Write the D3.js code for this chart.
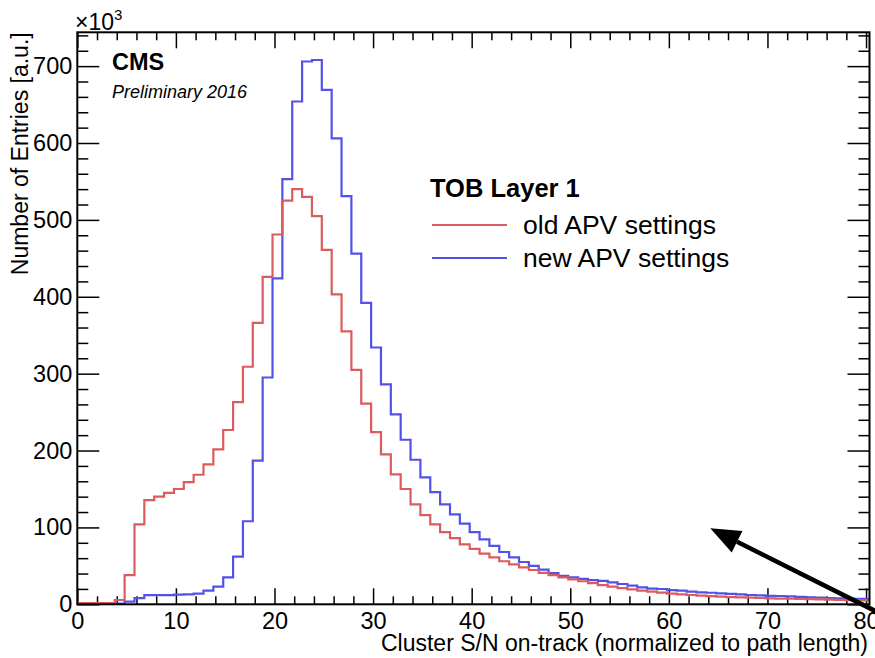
<!DOCTYPE html>
<html>
<head>
<meta charset="utf-8">
<script src="https://cdn.jsdelivr.net/npm/d3@7"></script>
<style>
  body { margin: 0; background: #fff; }
  text { font-family: "Liberation Sans", Arial, Helvetica, sans-serif; fill: #000; }
</style>
</head>
<body>
<div id="chart"></div>
<script>
// bins are 1 wide, first bin starts at -0.2
var binLow = -0.2;
var binWidth = 1;

// entries per bin, in units of 10^3
var oldApv = [1.5, 1.5, 1.5, 1.5, 5.6, 38, 104, 135.6, 140, 145,
  150, 159, 168.5, 182, 201.5, 226.7, 263, 309, 366, 426,
  481, 525, 540, 530, 505, 461, 403, 355, 305, 261,
  224, 195, 169, 150, 130, 116, 104, 94, 86, 78,
  72, 66, 61, 56, 52, 48, 44.6, 41, 38, 35,
  32.5, 30, 27.5, 25, 23, 21, 19.5, 17.7, 16.4, 15.1,
  13.8, 13, 12.1, 11.2, 10.6, 9.9, 9.4, 9.0, 8.6, 8.2,
  7.8, 7.5, 7.2, 6.9, 6.6, 6.3, 6.0, 5.8, 5.5, 5.3, 5.1];

var newApv = [0, 0, 0, 0, 1, 3.4, 8, 12, 12, 12,
  12.5, 13, 14, 17.7, 23, 35, 62, 108, 187, 295,
  424, 553, 654, 706, 708, 669, 606, 531, 456, 392,
  334, 286, 247, 214, 188, 165, 146, 130, 117, 105,
  94, 84.5, 76, 68, 61, 55, 50, 45, 40.5, 37,
  35, 33, 31.5, 30.5, 28.6, 26.4, 24.2, 22.1, 20.5, 19.9,
  18.5, 17.7, 16.5, 15.6, 15, 14.3, 13.6, 12.8, 12.1, 11.5,
  11, 10.8, 10.3, 9.6, 9.1, 8.8, 8.2, 7.8, 7.4, 7.0, 6.8];

var xMajor = [0, 10, 20, 30, 40, 50, 60, 70, 80];
var yMajor = [0, 100, 200, 300, 400, 500, 600, 700];
var seriesNames = ["old APV settings", "new APV settings"];
var seriesColors = ["#db5c5e", "#5252ea"];
var legendTitle = "TOB Layer 1";
// arrow annotation, in data units: [tail, tip]
var arrowPts = [[81.6, -13], [64.2, 98.8]];

var width = 875, height = 658;
var pLeft = 77.3, pRight = 869.5, pTop = 32.3, pBottom = 604.3;

var x = d3.scaleLinear().domain([0, 80.35]).range([pLeft, pRight]);
var y = d3.scaleLinear().domain([0, 744]).range([pBottom, pTop]);

var svg = d3.select("#chart").append("svg")
  .attr("width", width)
  .attr("height", height);

svg.append("defs").append("clipPath").attr("id", "plotclip")
  .append("rect")
  .attr("x", pLeft).attr("y", pTop)
  .attr("width", pRight - pLeft).attr("height", pBottom - pTop);

var minorX = d3.range(0, 81, 2).filter(function(d) { return d % 10 != 0; });
var minorY = d3.range(0, 741, 20).filter(function(d) { return d % 100 != 0; });

var styleAxis = function(g, fontSize) {
  g.attr("font-family", null).attr("font-size", null);
  g.select(".domain").remove();
  g.selectAll("line").attr("stroke", "#000").attr("stroke-width", 1.5);
  g.selectAll("text").attr("font-size", fontSize + "px").attr("fill", "#000");
};

// bottom axis
svg.append("g").attr("transform", "translate(0," + pBottom + ")")
  .call(d3.axisBottom(x).tickValues(xMajor).tickSize(-16).tickPadding(8).tickFormat(d3.format("d")))
  .call(styleAxis, 23.5);
svg.append("g").attr("transform", "translate(0," + pBottom + ")")
  .call(d3.axisBottom(x).tickValues(minorX).tickSize(-8).tickFormat(""))
  .call(styleAxis, 22);
// top axis
svg.append("g").attr("transform", "translate(0," + pTop + ")")
  .call(d3.axisTop(x).tickValues(xMajor).tickSize(-16).tickFormat(""))
  .call(styleAxis, 22);
svg.append("g").attr("transform", "translate(0," + pTop + ")")
  .call(d3.axisTop(x).tickValues(minorX).tickSize(-8).tickFormat(""))
  .call(styleAxis, 22);
// left axis
svg.append("g").attr("transform", "translate(" + pLeft + ",0)")
  .call(d3.axisLeft(y).tickValues(yMajor).tickSize(-22).tickPadding(5).tickFormat(d3.format("d")))
  .call(styleAxis, 23.5);
svg.append("g").attr("transform", "translate(" + pLeft + ",0)")
  .call(d3.axisLeft(y).tickValues(minorY).tickSize(-11).tickFormat(""))
  .call(styleAxis, 22);
// right axis
svg.append("g").attr("transform", "translate(" + pRight + ",0)")
  .call(d3.axisRight(y).tickValues(yMajor).tickSize(-22).tickFormat(""))
  .call(styleAxis, 22);
svg.append("g").attr("transform", "translate(" + pRight + ",0)")
  .call(d3.axisRight(y).tickValues(minorY).tickSize(-11).tickFormat(""))
  .call(styleAxis, 22);

// histograms, blue first so red sits on top
var stepLine = d3.line()
  .x(function(d) { return x(d[0]); })
  .y(function(d) { return y(d[1]); })
  .curve(d3.curveStepAfter);

var toSteps = function(vals) {
  var pts = vals.map(function(v, i) { return [binLow + i * binWidth, v]; });
  pts.push([binLow + vals.length * binWidth, vals[vals.length - 1]]);
  return pts;
};

var series = [newApv, oldApv];
var colors = [seriesColors[1], seriesColors[0]];
svg.append("g").attr("clip-path", "url(#plotclip)")
  .selectAll("path").data(series).enter().append("path")
  .attr("d", function(d) { return stepLine(toSteps(d)); })
  .attr("fill", "none")
  .attr("stroke", function(d, i) { return colors[i]; })
  .attr("stroke-width", 2.2);

// frame
svg.append("rect")
  .attr("x", pLeft).attr("y", pTop)
  .attr("width", pRight - pLeft).attr("height", pBottom - pTop)
  .attr("fill", "none").attr("stroke", "#000").attr("stroke-width", 2);

// axis titles
svg.append("text")
  .attr("x", 868).attr("y", 651)
  .attr("text-anchor", "end")
  .attr("font-size", "23px")
  .text("Cluster S/N on-track (normalized to path length)");

svg.append("text")
  .attr("transform", "translate(28," + pTop + ") rotate(-90)")
  .attr("text-anchor", "end")
  .attr("font-size", "23px")
  .text("Number of Entries [a.u.]");

var mult = svg.append("text").attr("x", 75).attr("y", 30).attr("font-size", "23px");
mult.append("tspan").text("\u00d710");
mult.append("tspan").attr("dy", -10).attr("font-size", "15px").text("3");

// labels
svg.append("text").attr("x", 112).attr("y", 70)
  .attr("font-size", "23.5px").attr("font-weight", "bold").text("CMS");
svg.append("text").attr("x", 112).attr("y", 98)
  .attr("font-size", "18px").attr("font-style", "italic").text("Preliminary 2016");

// legend
var legend = svg.append("g").attr("transform", "translate(430,0)");
legend.append("text").attr("x", 0).attr("y", 197)
  .attr("font-size", "25.5px").attr("font-weight", "bold").text(legendTitle);
var entries = legend.selectAll("g.entry").data(seriesNames).enter().append("g")
  .attr("class", "entry")
  .attr("transform", function(d, i) { return "translate(0," + (225 + i * 33) + ")"; });
entries.append("line")
  .attr("x1", 2).attr("x2", 77)
  .attr("stroke", function(d, i) { return seriesColors[i]; })
  .attr("stroke-width", 2.2);
entries.append("text").attr("x", 93).attr("y", 9)
  .attr("font-size", "26.5px").text(function(d) { return d; });

// arrow
var ax0 = x(arrowPts[0][0]), ay0 = y(arrowPts[0][1]);
var ax1 = x(arrowPts[1][0]), ay1 = y(arrowPts[1][1]);
var ang = Math.atan2(ay1 - ay0, ax1 - ax0);
var headLen = 30, headW = 12;
var bx = ax1 - headLen * Math.cos(ang), by = ay1 - headLen * Math.sin(ang);
svg.append("line")
  .attr("x1", ax0).attr("y1", ay0).attr("x2", bx).attr("y2", by)
  .attr("stroke", "#000").attr("stroke-width", 4.5);
svg.append("path")
  .attr("d", d3.line()([
    [ax1, ay1],
    [bx + headW * Math.sin(ang), by - headW * Math.cos(ang)],
    [bx - headW * Math.sin(ang), by + headW * Math.cos(ang)]
  ]) + "Z")
  .attr("fill", "#000");
</script>
</body>
</html>
